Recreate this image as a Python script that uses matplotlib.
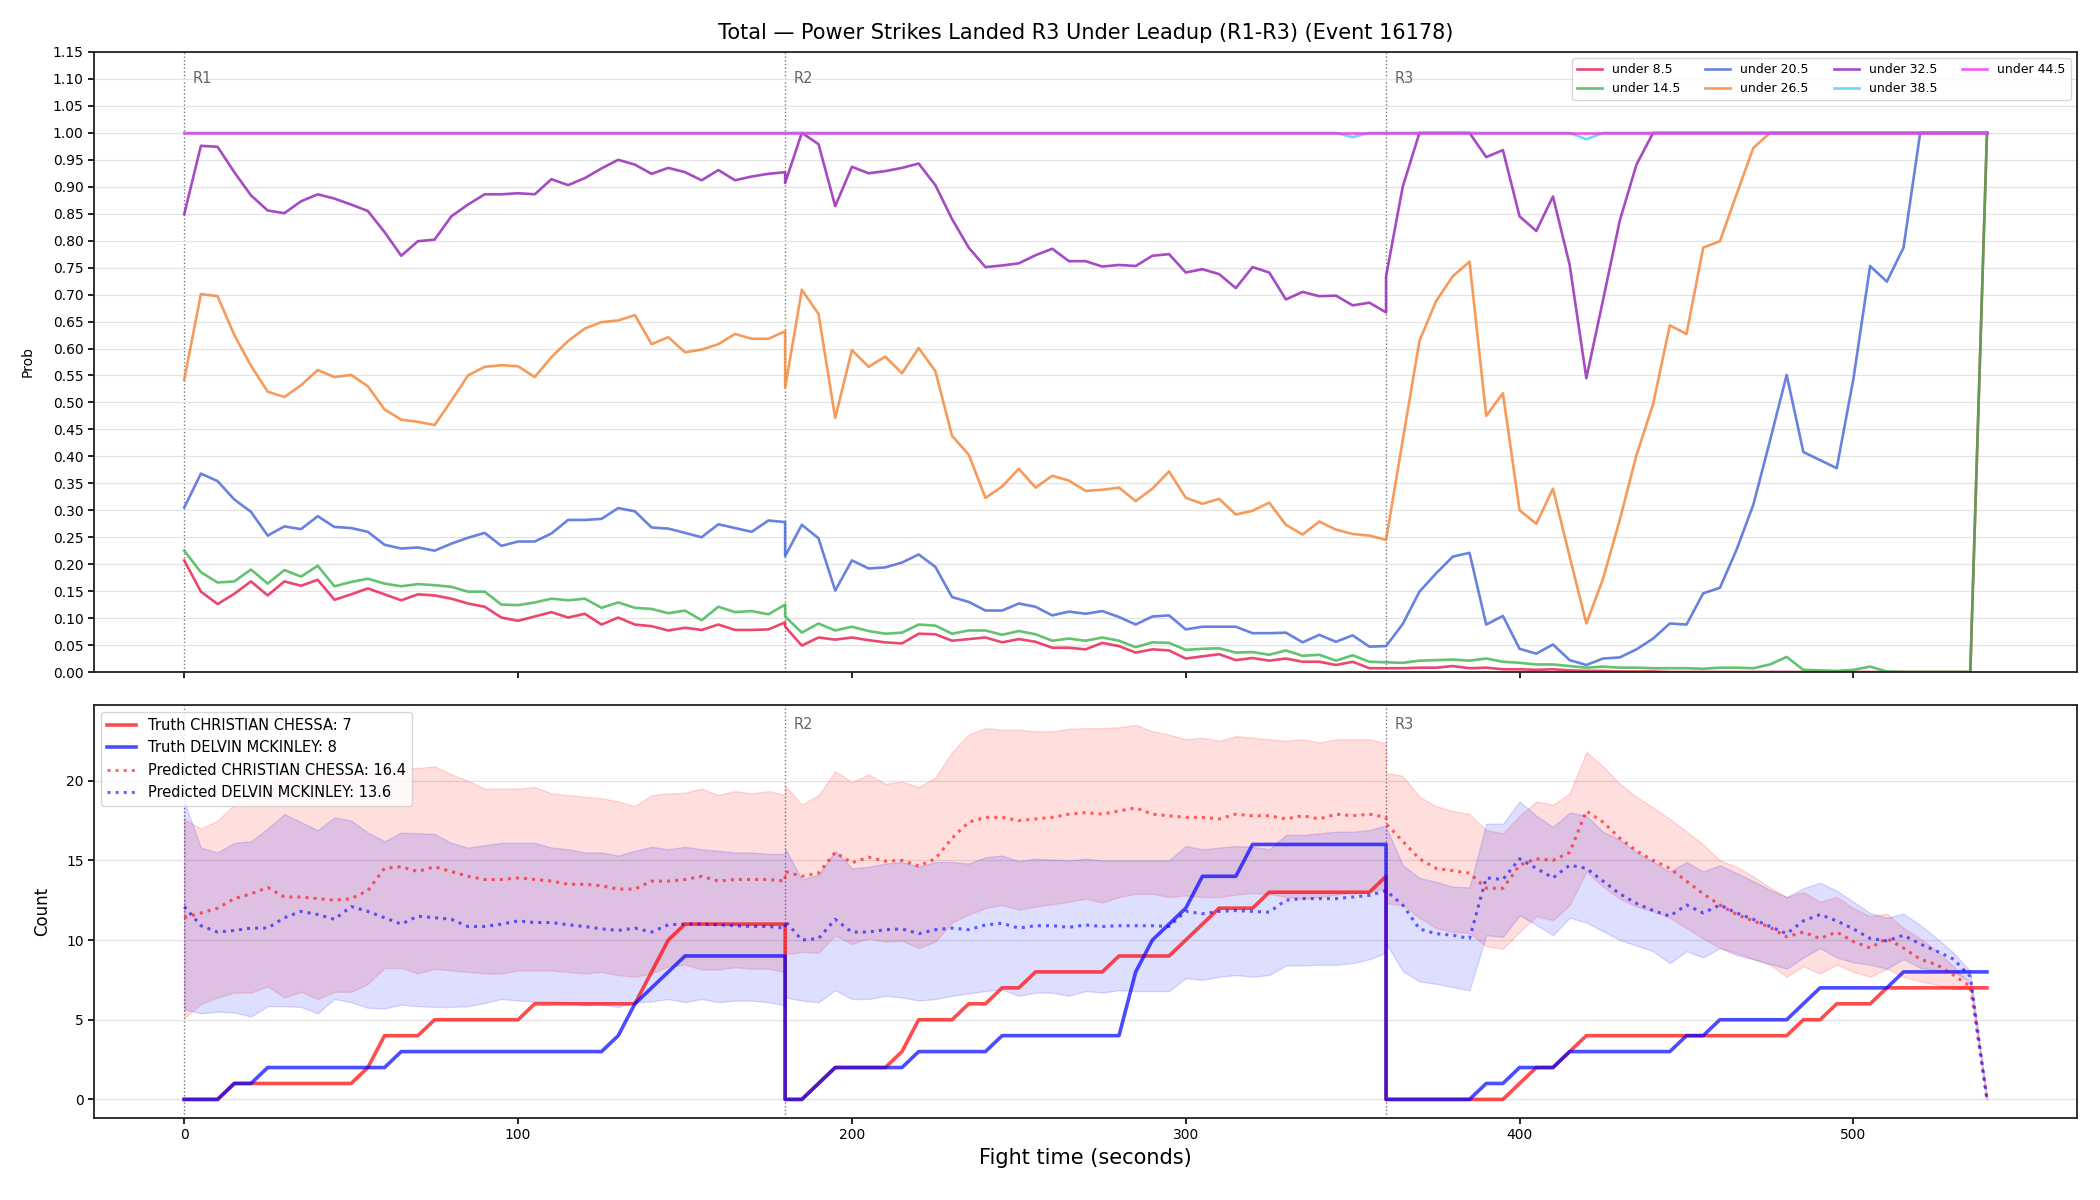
import numpy as np
import matplotlib
matplotlib.use("Agg")
import matplotlib.pyplot as plt
import matplotlib.transforms as mtransforms

# ---------------- data ----------------
round_starts = [0, 180, 360]
round_labels = ["R1", "R2", "R3"]
step = 5
time = np.concatenate([np.arange(s, s + 181, step) for s in round_starts])

title = "Total \u2014 Power Strikes Landed R3 Under Leadup (R1-R3) (Event 16178)"

prob_labels = ["under 8.5", "under 14.5", "under 20.5", "under 26.5",
               "under 32.5", "under 38.5", "under 44.5"]
prob_colors = ["#e6194b", "#3cb44b", "#4363d8", "#f58231",
               "#911eb4", "#42d4f4", "#f032e6"]

under_8_5 = (
    [0.207, 0.149, 0.126, 0.145, 0.168, 0.142, 0.168, 0.160, 0.171, 0.134, 0.144, 0.155, 0.144,
     0.133, 0.144, 0.142, 0.136, 0.127, 0.121, 0.101, 0.095, 0.103, 0.111, 0.101, 0.108, 0.088,
     0.101, 0.088, 0.085, 0.077, 0.082, 0.078, 0.088, 0.078, 0.078, 0.079, 0.092]
    + [0.084, 0.049, 0.064, 0.060, 0.064, 0.059, 0.055, 0.053, 0.071, 0.070, 0.058, 0.061, 0.064,
       0.055, 0.061, 0.056, 0.045, 0.045, 0.042, 0.054, 0.048, 0.036, 0.042, 0.040, 0.025, 0.029,
       0.033, 0.022, 0.026, 0.021, 0.025, 0.019, 0.019, 0.013, 0.019, 0.007, 0.007]
    + [0.007, 0.007, 0.008, 0.008, 0.011, 0.007, 0.008, 0.005, 0.005, 0.004, 0.005, 0.003, 0.002,
       0.002, 0.001, 0.001, 0.001, 0.0, 0.0, 0.0, 0.0, 0.0, 0.0, 0.0, 0.0, 0.0, 0.0, 0.0, 0.0,
       0.0, 0.0, 0.0, 0.0, 0.0, 0.0, 0.0, 1.0]
)
under_14_5 = (
    [0.225, 0.185, 0.166, 0.168, 0.190, 0.164, 0.189, 0.177, 0.197, 0.159, 0.167, 0.173, 0.164,
     0.159, 0.163, 0.161, 0.158, 0.149, 0.149, 0.125, 0.124, 0.129, 0.136, 0.133, 0.136, 0.119,
     0.129, 0.119, 0.117, 0.109, 0.114, 0.096, 0.121, 0.111, 0.113, 0.107, 0.125]
    + [0.103, 0.073, 0.090, 0.077, 0.084, 0.076, 0.071, 0.073, 0.088, 0.086, 0.071, 0.077, 0.077,
       0.069, 0.076, 0.070, 0.058, 0.062, 0.058, 0.064, 0.058, 0.046, 0.055, 0.054, 0.041, 0.043,
       0.044, 0.036, 0.037, 0.032, 0.040, 0.030, 0.032, 0.021, 0.031, 0.019, 0.018]
    + [0.018, 0.017, 0.021, 0.022, 0.023, 0.021, 0.025, 0.019, 0.017, 0.014, 0.014, 0.011, 0.008,
       0.010, 0.008, 0.008, 0.007, 0.007, 0.007, 0.006, 0.008, 0.008, 0.007, 0.014, 0.028, 0.004,
       0.003, 0.002, 0.004, 0.010, 0.001, 0.0, 0.0, 0.0, 0.0, 0.0, 1.0]
)
under_20_5 = (
    [0.305, 0.368, 0.354, 0.320, 0.297, 0.253, 0.270, 0.265, 0.289, 0.269, 0.267, 0.260, 0.236,
     0.229, 0.231, 0.225, 0.238, 0.249, 0.258, 0.234, 0.242, 0.242, 0.257, 0.282, 0.282, 0.284,
     0.304, 0.298, 0.268, 0.266, 0.258, 0.250, 0.274, 0.267, 0.260, 0.281, 0.278]
    + [0.215, 0.273, 0.248, 0.151, 0.207, 0.192, 0.194, 0.203, 0.218, 0.195, 0.139, 0.130, 0.114,
       0.114, 0.127, 0.121, 0.105, 0.112, 0.108, 0.113, 0.102, 0.088, 0.103, 0.105, 0.079, 0.084,
       0.084, 0.084, 0.072, 0.072, 0.073, 0.055, 0.069, 0.056, 0.068, 0.047, 0.048]
    + [0.048, 0.089, 0.149, 0.183, 0.214, 0.221, 0.088, 0.104, 0.043, 0.034, 0.051, 0.022, 0.013,
       0.025, 0.027, 0.042, 0.062, 0.090, 0.088, 0.146, 0.156, 0.227, 0.310, 0.429, 0.551, 0.408,
       0.393, 0.378, 0.544, 0.753, 0.724, 0.787, 1.0, 1.0, 1.0, 1.0, 1.0]
)
under_26_5 = (
    [0.542, 0.701, 0.697, 0.625, 0.568, 0.520, 0.510, 0.532, 0.560, 0.547, 0.551, 0.530, 0.487,
     0.468, 0.464, 0.458, 0.503, 0.550, 0.566, 0.569, 0.567, 0.547, 0.584, 0.614, 0.637, 0.649,
     0.652, 0.662, 0.608, 0.621, 0.593, 0.598, 0.608, 0.627, 0.618, 0.618, 0.632]
    + [0.527, 0.709, 0.664, 0.471, 0.597, 0.566, 0.585, 0.554, 0.601, 0.558, 0.438, 0.403, 0.323,
       0.344, 0.377, 0.342, 0.364, 0.355, 0.336, 0.338, 0.342, 0.317, 0.340, 0.372, 0.323, 0.312,
       0.321, 0.292, 0.299, 0.314, 0.273, 0.255, 0.279, 0.264, 0.256, 0.253, 0.245]
    + [0.245, 0.430, 0.614, 0.688, 0.734, 0.761, 0.475, 0.517, 0.300, 0.275, 0.340, 0.214, 0.090,
       0.173, 0.282, 0.402, 0.497, 0.643, 0.627, 0.787, 0.799, 0.886, 0.972, 1.0, 1.0, 1.0, 1.0,
       1.0, 1.0, 1.0, 1.0, 1.0, 1.0, 1.0, 1.0, 1.0, 1.0]
)
under_32_5 = (
    [0.849, 0.976, 0.974, 0.927, 0.884, 0.856, 0.851, 0.873, 0.886, 0.878, 0.867, 0.855, 0.816,
     0.772, 0.799, 0.802, 0.845, 0.867, 0.886, 0.886, 0.888, 0.886, 0.914, 0.903, 0.916, 0.934,
     0.950, 0.941, 0.924, 0.935, 0.927, 0.912, 0.931, 0.912, 0.919, 0.924, 0.927]
    + [0.907, 1.0, 0.979, 0.864, 0.937, 0.925, 0.929, 0.935, 0.943, 0.903, 0.840, 0.787, 0.751,
       0.754, 0.758, 0.773, 0.785, 0.762, 0.762, 0.752, 0.755, 0.753, 0.772, 0.775, 0.741, 0.747,
       0.738, 0.712, 0.751, 0.741, 0.691, 0.705, 0.697, 0.698, 0.680, 0.685, 0.667]
    + [0.734, 0.900, 1.0, 1.0, 1.0, 1.0, 0.955, 0.968, 0.845, 0.818, 0.882, 0.755, 0.545, 0.690,
       0.837, 0.941, 1.0, 1.0, 1.0, 1.0, 1.0, 1.0, 1.0, 1.0, 1.0, 1.0, 1.0, 1.0, 1.0, 1.0, 1.0,
       1.0, 1.0, 1.0, 1.0, 1.0, 1.0]
)
under_38_5 = (
    [1.0] * 37
    + [1.0] * 34 + [0.992, 1.0, 1.0]
    + [1.0] * 12 + [0.988] + [1.0] * 24
)
under_44_5 = [1.0] * 111

prob_series = [under_8_5, under_14_5, under_20_5, under_26_5,
               under_32_5, under_38_5, under_44_5]

# fighters
name_a = "CHRISTIAN CHESSA"
name_b = "DELVIN MCKINLEY"
truth_final_a = 7
truth_final_b = 8
pred_final_a = 16.4
pred_final_b = 13.6

truth_a = (
    [0, 0, 0, 1, 1, 1, 1, 1, 1, 1, 1, 2, 4, 4, 4, 5, 5, 5, 5, 5, 5, 6, 6, 6, 6, 6, 6, 6, 8, 10,
     11, 11, 11, 11, 11, 11, 11]
    + [0, 0, 1, 2, 2, 2, 2, 3, 5, 5, 5, 6, 6, 7, 7, 8, 8, 8, 8, 8, 9, 9, 9, 9, 10, 11, 12, 12,
       12, 13, 13, 13, 13, 13, 13, 13, 14]
    + [0, 0, 0, 0, 0, 0, 0, 0, 1, 2, 2, 3, 4, 4, 4, 4, 4, 4, 4, 4, 4, 4, 4, 4, 4, 5, 5, 6, 6, 6,
       7, 7, 7, 7, 7, 7, 7]
)
truth_b = (
    [0, 0, 0, 1, 1, 2, 2, 2, 2, 2, 2, 2, 2, 3, 3, 3, 3, 3, 3, 3, 3, 3, 3, 3, 3, 3, 4, 6, 7, 8,
     9, 9, 9, 9, 9, 9, 9]
    + [0, 0, 1, 2, 2, 2, 2, 2, 3, 3, 3, 3, 3, 4, 4, 4, 4, 4, 4, 4, 4, 8, 10, 11, 12, 14, 14, 14,
       16, 16, 16, 16, 16, 16, 16, 16, 16]
    + [0, 0, 0, 0, 0, 0, 1, 1, 2, 2, 2, 3, 3, 3, 3, 3, 3, 3, 4, 4, 5, 5, 5, 5, 5, 6, 7, 7, 7, 7,
       7, 8, 8, 8, 8, 8, 8]
)
pred_a = (
    [11.4, 11.7, 12.0, 12.6, 12.9, 13.3, 12.7, 12.7, 12.6, 12.5, 12.6, 13.1, 14.5, 14.6, 14.3,
     14.6, 14.3, 14.0, 13.8, 13.8, 13.9, 13.8, 13.7, 13.5, 13.5, 13.4, 13.2, 13.2, 13.7, 13.7,
     13.8, 14.0, 13.7, 13.8, 13.8, 13.8, 13.7]
    + [14.3, 14.0, 14.2, 15.5, 14.85, 15.2, 14.95, 15.0, 14.65, 15.1, 16.4, 17.4, 17.7, 17.7,
       17.5, 17.6, 17.7, 17.9, 18.0, 17.9, 18.1, 18.3, 17.9, 17.8, 17.7, 17.7, 17.6, 17.9, 17.8,
       17.8, 17.6, 17.8, 17.6, 17.9, 17.8, 17.9, 17.7]
    + [17.3, 16.2, 15.1, 14.5, 14.35, 14.2, 13.25, 13.25, 14.7, 15.1, 15.0, 15.5, 18.1, 17.4,
       16.4, 15.6, 15.0, 14.5, 13.7, 12.9, 12.2, 11.6, 11.2, 10.8, 10.2, 10.5, 10.1, 10.5, 9.9,
       9.5, 10.1, 9.5, 8.8, 8.45, 7.8, 7.1, 0.0]
)
pred_b = (
    [12.1, 10.9, 10.5, 10.6, 10.75, 10.75, 11.4, 11.8, 11.6, 11.3, 12.1, 11.8, 11.4, 11.0, 11.5,
     11.4, 11.3, 10.85, 10.85, 11.0, 11.2, 11.1, 11.1, 10.96, 10.85, 10.7, 10.6, 10.75, 10.5,
     10.96, 11.0, 11.0, 10.96, 10.9, 10.85, 10.85, 10.75]
    + [11.2, 10.0, 10.1, 11.3, 10.5, 10.5, 10.65, 10.7, 10.4, 10.65, 10.75, 10.65, 10.95, 11.05,
       10.75, 10.9, 10.9, 10.8, 10.95, 10.85, 10.9, 10.9, 10.9, 10.85, 11.8, 11.65, 11.8, 11.85,
       11.8, 11.75, 12.5, 12.6, 12.6, 12.6, 12.7, 12.8, 13.1]
    + [13.1, 12.2, 10.7, 10.4, 10.3, 10.1, 13.9, 13.8, 15.1, 14.5, 13.9, 14.7, 14.5, 13.7, 12.9,
       12.3, 11.85, 11.5, 12.2, 11.7, 12.2, 11.7, 11.3, 10.85, 10.4, 11.2, 11.6, 11.2, 10.7, 10.1,
       9.95, 10.3, 9.75, 9.3, 8.8, 7.7, 0.0]
)
band_a_hi = (
    [17.6, 17.0, 17.5, 18.5, 19.1, 19.8, 20.3, 20.5, 20.5, 20.3, 20.5, 20.5, 20.8, 20.8, 20.8,
     20.9, 20.4, 20.0, 19.5, 19.5, 19.5, 19.6, 19.2, 19.1, 19.0, 18.9, 18.7, 18.4, 19.1, 19.2,
     19.25, 19.5, 19.1, 19.35, 19.2, 19.35, 19.1]
    + [19.7, 18.5, 19.1, 20.6, 19.9, 20.4, 19.8, 19.95, 19.6, 20.2, 21.8, 22.9, 23.3, 23.2, 23.2,
       23.1, 23.1, 23.25, 23.3, 23.3, 23.35, 23.5, 23.1, 22.9, 22.6, 22.7, 22.5, 22.8, 22.7, 22.6,
       22.5, 22.6, 22.4, 22.6, 22.6, 22.6, 22.35]
    + [20.5, 20.3, 19.0, 18.4, 18.1, 17.9, 16.9, 16.7, 17.8, 18.7, 18.5, 19.2, 21.8, 20.9, 19.8,
       19.0, 18.3, 17.6, 16.8, 16.0, 15.0, 14.6, 14.0, 13.3, 12.7, 13.0, 12.4, 12.7, 12.0, 11.5,
       11.65, 10.75, 10.1, 9.3, 8.35, 7.25, 0.0]
)
band_a_lo = (
    [5.1, 6.0, 6.4, 6.7, 6.7, 7.1, 6.4, 6.75, 6.3, 6.75, 6.75, 7.25, 8.25, 8.25, 7.9, 8.2, 8.1,
     8.0, 7.9, 7.9, 8.1, 8.1, 8.1, 8.0, 7.9, 8.0, 7.8, 7.7, 7.9, 8.35, 8.45, 8.15, 8.15, 8.3, 8.2,
     8.2, 8.0]
    + [9.1, 9.25, 9.2, 10.3, 9.75, 10.1, 9.9, 9.95, 9.5, 9.9, 11.1, 11.6, 12.0, 12.2, 11.9, 12.1,
       12.25, 12.4, 12.6, 12.35, 12.7, 12.9, 12.9, 12.7, 12.8, 12.7, 12.7, 12.85, 12.95, 12.9,
       12.7, 12.6, 12.7, 12.85, 12.95, 13.0, 13.25]
    + [12.3, 12.2, 11.4, 10.75, 10.5, 10.45, 9.6, 9.45, 10.5, 11.5, 11.25, 12.2, 14.3, 13.35,
       12.6, 12.1, 11.8, 11.4, 10.75, 10.1, 9.5, 9.2, 8.8, 8.45, 7.7, 8.35, 7.9, 8.45, 8.0, 7.7,
       8.2, 7.7, 7.4, 7.2, 6.95, 6.9, 0.0]
)
band_b_hi = (
    [18.7, 15.8, 15.5, 16.1, 16.2, 17.0, 17.9, 17.4, 16.9, 17.7, 17.5, 16.75, 16.2, 16.75, 16.7,
     16.65, 16.1, 15.8, 15.95, 16.1, 16.1, 16.1, 15.8, 15.7, 15.5, 15.5, 15.3, 15.6, 15.85, 15.7,
     15.85, 15.7, 15.6, 15.5, 15.5, 15.4, 15.4]
    + [15.75, 13.8, 14.1, 15.6, 14.5, 14.6, 14.8, 14.9, 14.6, 14.9, 14.9, 14.8, 15.2, 15.3, 14.95,
       15.1, 15.05, 15.0, 15.1, 15.0, 15.0, 15.0, 15.0, 15.0, 15.9, 15.7, 15.8, 15.9, 15.85, 15.7,
       16.6, 16.6, 16.7, 16.8, 16.8, 16.9, 17.2]
    + [17.1, 14.7, 13.9, 13.65, 13.35, 13.3, 17.3, 17.3, 18.7, 17.8, 17.1, 18.0, 17.8, 16.8, 16.3,
       15.5, 14.9, 14.3, 14.9, 14.3, 14.7, 14.2, 13.7, 13.15, 12.7, 13.25, 13.6, 13.1, 12.4, 11.7,
       11.4, 11.65, 10.95, 10.1, 9.2, 8.05, 0.0]
)
band_b_lo = (
    [5.65, 5.4, 5.5, 5.45, 5.2, 5.85, 5.85, 5.8, 5.4, 6.3, 6.1, 5.75, 5.7, 5.95, 5.85, 5.8, 5.8,
     5.85, 6.05, 6.3, 6.2, 6.15, 6.15, 6.05, 5.9, 5.95, 5.8, 6.1, 6.15, 6.3, 6.1, 6.3, 6.1, 6.2,
     6.2, 6.1, 5.9]
    + [6.4, 6.2, 6.1, 6.85, 6.3, 6.3, 6.5, 6.4, 6.2, 6.3, 6.5, 6.65, 6.8, 6.9, 6.5, 6.7, 6.7, 6.5,
       6.8, 6.7, 6.85, 6.8, 6.8, 6.8, 7.6, 7.5, 7.7, 7.8, 7.7, 7.8, 8.4, 8.4, 8.45, 8.45, 8.55,
       8.8, 9.2]
    + [9.8, 8.05, 7.4, 7.25, 7.05, 6.85, 10.3, 10.2, 11.55, 10.95, 10.3, 11.4, 11.1, 10.55, 10.0,
       9.65, 9.3, 8.55, 9.3, 8.9, 9.5, 9.05, 8.8, 8.5, 8.2, 8.9, 9.5, 8.9, 8.6, 8.45, 8.2, 8.8,
       8.25, 8.1, 8.0, 7.4, 0.0]
)

# ---------------- figure ----------------
fig = plt.figure(figsize=(21, 12), dpi=100)
ax1 = fig.add_axes([0.0448, 0.44, 0.9443, 0.5167])
ax2 = fig.add_axes([0.0448, 0.0683, 0.9443, 0.3442], sharex=ax1)

for ax in (ax1, ax2):
    for sp in ax.spines.values():
        sp.set_linewidth(1.3)
        sp.set_color("#222222")
    ax.tick_params(axis="both", labelsize=10, width=1.2, length=4)
    ax.grid(axis="y", color="#e3e3e3", linewidth=0.9)
    ax.set_axisbelow(True)

# top panel
for vals, lab, col in zip(prob_series, prob_labels, prob_colors):
    ax1.plot(time, vals, color=col, lw=1.9, alpha=0.8, label=lab)

ax1.set_ylim(0, 1.15)
ax1.set_yticks(np.arange(0, 1.1501, 0.05))
ax1.set_yticklabels([f"{v:.2f}" for v in np.arange(0, 1.1501, 0.05)])
ax1.set_ylabel("Prob", fontsize=10, labelpad=13)
ax1.set_title(title, fontsize=15, pad=9)
ax1.tick_params(labelbottom=False)
ax1.legend(loc="upper right", ncol=4, fontsize=9, framealpha=0.8)

# bottom panel
ax2.fill_between(time, band_a_lo, band_a_hi, color="red", alpha=0.13, lw=1)
ax2.fill_between(time, band_b_lo, band_b_hi, color="blue", alpha=0.13, lw=1)
ax2.plot(time, truth_a, color="red", lw=2.6, alpha=0.7,
         label=f"Truth {name_a}: {truth_final_a}")
ax2.plot(time, truth_b, color="blue", lw=2.6, alpha=0.7,
         label=f"Truth {name_b}: {truth_final_b}")
ax2.plot(time, pred_a, color="red", lw=2.2, ls=":", alpha=0.6,
         label=f"Predicted {name_a}: {pred_final_a}")
ax2.plot(time, pred_b, color="blue", lw=2.2, ls=":", alpha=0.6,
         label=f"Predicted {name_b}: {pred_final_b}")

ax2.set_ylim(-1.17, 24.75)
ax2.set_yticks([0, 5, 10, 15, 20])
ax2.set_xlim(-27, 567)
ax2.set_xticks([0, 100, 200, 300, 400, 500])
ax2.set_xlabel("Fight time (seconds)", fontsize=15)
ax2.set_ylabel("Count", fontsize=12, labelpad=11)
ax2.legend(loc="upper left", fontsize=10.5, framealpha=0.8)

# round markers (the R1 tag of the lower panel sits under its legend in the source)
for ax, first in ((ax1, 0), (ax2, 1)):
    trans = mtransforms.blended_transform_factory(ax.transData, ax.transAxes)
    for i, (s, lab) in enumerate(zip(round_starts, round_labels)):
        ax.axvline(s, color="#777777", ls=":", lw=1.0, zorder=0.5)
        if i >= first:
            ax.text(s + 2.5, 0.97, lab, transform=trans, ha="left", va="top",
                    fontsize=10.5, color="#666666", zorder=0.6)

fig.savefig("out.png", dpi=100)
